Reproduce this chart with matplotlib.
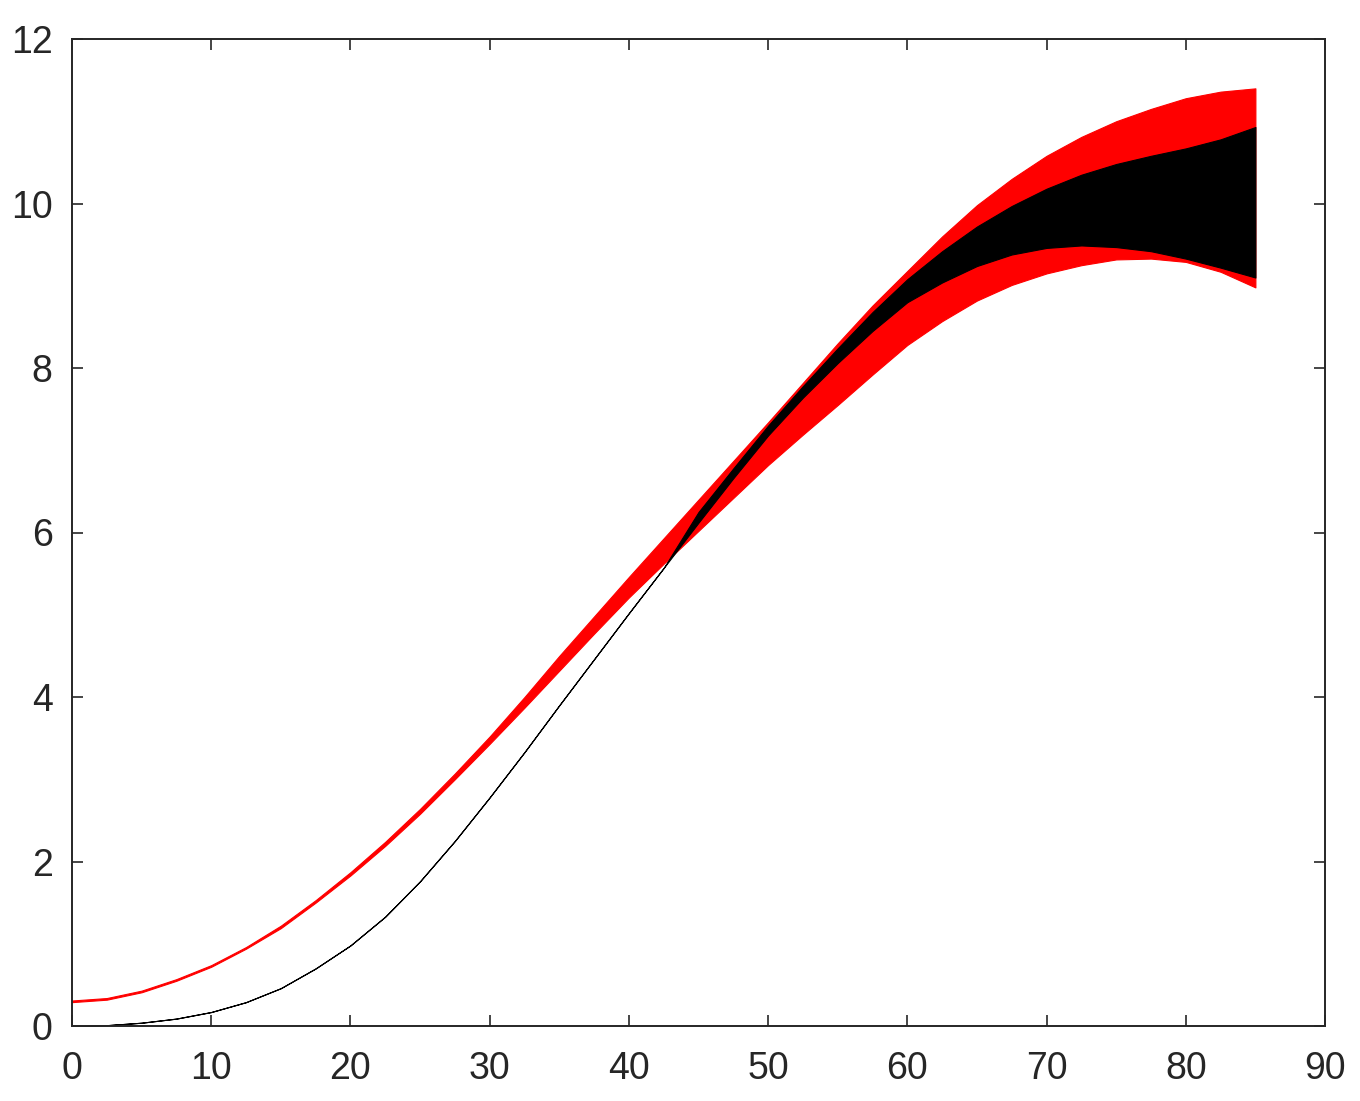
import numpy as np
import matplotlib.pyplot as plt

# values, every 2.5 units
x = [0, 2.5, 5, 7.5, 10, 12.5, 15, 17.5, 20, 22.5, 25, 27.5, 30, 32.5, 35, 37.5, 40, 42.5,
     45, 47.5, 50, 52.5, 55, 57.5, 60, 62.5, 65, 67.5, 70, 72.5, 75, 77.5, 80, 82.5, 85]

red_hi = [0.31, 0.34, 0.43, 0.57, 0.74, 0.96, 1.22, 1.53, 1.87, 2.24, 2.64, 3.07, 3.52, 4.00, 4.50, 4.98, 5.46, 5.93,
          6.40, 6.87, 7.34, 7.82, 8.30, 8.76, 9.18, 9.60, 9.98, 10.30, 10.58, 10.81, 11.00, 11.15, 11.28, 11.36, 11.40]
red_lo = [0.29, 0.32, 0.41, 0.55, 0.72, 0.94, 1.19, 1.50, 1.83, 2.19, 2.58, 3.00, 3.43, 3.87, 4.32, 4.77, 5.21, 5.62,
          6.02, 6.42, 6.82, 7.19, 7.55, 7.92, 8.28, 8.57, 8.82, 9.01, 9.15, 9.25, 9.32, 9.33, 9.29, 9.17, 8.98]

blk_hi = [0.00, 0.01, 0.04, 0.09, 0.17, 0.29, 0.46, 0.70, 0.98, 1.33, 1.76, 2.25, 2.78, 3.33, 3.90, 4.46, 5.02, 5.57,
          6.25, 6.78, 7.30, 7.78, 8.24, 8.68, 9.08, 9.42, 9.72, 9.97, 10.18, 10.35, 10.48, 10.58, 10.67, 10.78, 10.93]
blk_lo = [0.00, 0.01, 0.04, 0.09, 0.17, 0.29, 0.46, 0.70, 0.98, 1.33, 1.76, 2.25, 2.78, 3.33, 3.90, 4.46, 5.02, 5.57,
          6.12, 6.66, 7.18, 7.64, 8.06, 8.45, 8.80, 9.04, 9.24, 9.38, 9.46, 9.49, 9.47, 9.42, 9.33, 9.22, 9.10]

xticks = [0, 10, 20, 30, 40, 50, 60, 70, 80, 90]
yticks = [0, 2, 4, 6, 8, 10, 12]

plt.rcParams['font.family'] = ['Liberation Sans', 'DejaVu Sans']

fig = plt.figure(figsize=(13.6, 11.01), dpi=100)
ax = fig.add_axes([72 / 1360, 1 - 1026 / 1101, (1325 - 72) / 1360, (1026 - 39) / 1101])

# red band first, black band drawn over it
ax.fill_between(x, red_lo, red_hi, facecolor='#ff0000', edgecolor='#ff0000', linewidth=0.8)
ax.fill_between(x, blk_lo, blk_hi, facecolor='black', edgecolor='black', linewidth=0.8)

ax.set_xlim(0, 90)
ax.set_ylim(0, 12)
ax.set_xticks(xticks)
ax.set_yticks(yticks)

dark = '#262626'
for s in ax.spines.values():
    s.set_color(dark)
    s.set_linewidth(1.4)
ax.tick_params(direction='in', top=True, right=True, length=8, width=1.2,
               colors=dark, labelsize=27)
ax.tick_params(axis='x', pad=18)
ax.tick_params(axis='y', pad=14)

fig.savefig('out.png', dpi=100)
